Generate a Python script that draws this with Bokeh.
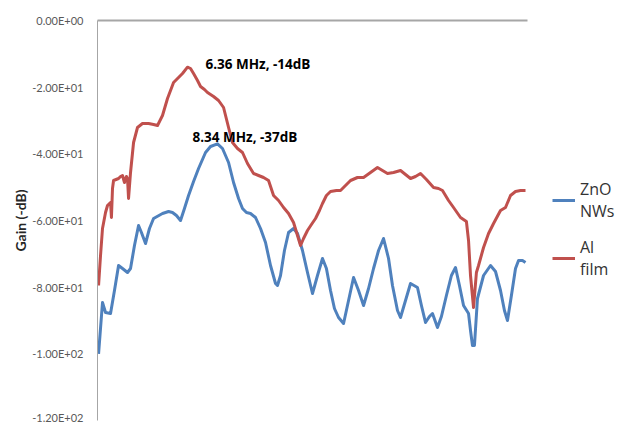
from bokeh.plotting import figure
from bokeh.models import Range1d, FixedTicker, Label, Legend, LegendItem
from bokeh.embed import file_html
from bokeh.resources import INLINE

# Frequency (MHz) and gain (dB) of the two devices
zno_freq = [0.49, 0.75, 0.95, 1.28, 1.54, 1.81, 2.07, 2.40, 2.60, 2.86, 3.13, 3.32, 3.59, 3.85,
            4.12, 4.71, 5.11, 5.37, 5.63, 5.90, 6.16, 6.43, 6.76, 7.09, 7.55, 7.88, 8.34, 8.67,
            9.07, 9.40, 9.73, 9.99, 10.25, 10.52, 10.85, 11.18, 11.51, 11.84, 12.17, 12.30, 12.50,
            12.76, 13.03, 13.36, 13.62, 13.95, 14.28, 14.61, 14.94, 15.27, 15.53, 15.80, 16.06,
            16.33, 16.66, 16.99, 17.32, 17.65, 17.98, 18.31, 18.64, 18.97, 19.30, 19.63, 19.89,
            20.22, 20.42, 20.75, 21.08, 21.54, 21.80, 22.07, 22.33, 22.53, 22.86, 23.12, 23.45,
            23.78, 24.05, 24.31, 24.58, 24.91, 25.04, 25.17, 25.30, 25.50, 25.90, 26.36, 26.69,
            27.02, 27.28, 27.48, 27.74, 28.01, 28.21, 28.47, 28.67]
zno_gain = [-100.0, -84.6, -87.6, -87.9, -81.0, -73.5, -74.4, -75.6, -74.4, -67.5, -61.5, -63.6,
            -66.9, -62.4, -59.4, -57.9, -57.3, -57.6, -58.5, -60.0, -56.4, -52.5, -48.3, -44.4,
            -39.6, -37.8, -37.0, -38.4, -42.6, -48.6, -53.4, -56.4, -57.6, -57.9, -59.1, -62.4,
            -66.6, -73.5, -78.9, -79.5, -76.5, -69.0, -63.6, -62.4, -63.9, -69.0, -75.6, -81.9,
            -76.5, -71.4, -74.4, -81.0, -86.4, -89.1, -90.9, -84.0, -77.1, -81.0, -85.5, -80.4,
            -74.4, -69.0, -65.4, -71.4, -79.5, -87.0, -89.1, -84.0, -78.9, -80.1, -85.5, -90.6,
            -88.8, -87.9, -92.1, -88.8, -82.5, -76.5, -74.1, -79.5, -85.5, -87.9, -93.0, -97.5,
            -97.5, -83.4, -76.5, -73.5, -75.3, -81.0, -87.0, -90.0, -82.5, -74.4, -72.0, -72.0,
            -72.6]

al_freq = [0.49, 0.62, 0.75, 0.95, 1.08, 1.28, 1.34, 1.41, 1.48, 1.81, 1.94, 2.07, 2.20, 2.33,
           2.40, 2.47, 2.60, 2.80, 3.06, 3.39, 3.79, 4.12, 4.38, 4.71, 5.04, 5.44, 5.77, 6.03,
           6.36, 6.56, 6.76, 7.02, 7.22, 7.48, 7.68, 8.08, 8.41, 8.74, 9.07, 9.33, 9.66, 9.99,
           10.32, 10.72, 11.05, 11.38, 11.71, 12.04, 12.37, 12.70, 13.03, 13.36, 13.62, 13.82,
           14.02, 14.28, 14.54, 14.81, 15.07, 15.27, 15.53, 15.80, 16.19, 16.46, 16.79, 17.12,
           17.58, 17.98, 18.44, 18.90, 19.23, 19.56, 19.96, 20.42, 20.75, 21.08, 21.41, 21.74,
           22.13, 22.60, 22.93, 23.19, 23.59, 23.92, 24.38, 24.77, 24.91, 25.04, 25.24, 25.43,
           25.57, 25.90, 26.23, 26.56, 27.02, 27.35, 27.68, 28.01, 28.34, 28.67]
al_gain = [-79.5, -70.5, -62.4, -57.6, -55.5, -54.6, -59.1, -50.4, -48.0, -47.4, -46.8, -46.5,
           -48.6, -46.8, -47.4, -53.4, -45.6, -36.6, -32.1, -30.9, -30.9, -31.2, -31.5, -28.5,
           -23.4, -18.6, -17.1, -15.9, -14.0, -14.4, -15.9, -18.0, -19.8, -20.7, -21.6, -22.8,
           -24.0, -26.1, -32.1, -36.6, -38.4, -39.6, -42.9, -45.9, -46.5, -47.1, -48.0, -52.5,
           -54.0, -56.1, -57.9, -60.6, -64.5, -67.5, -65.4, -63.0, -61.2, -59.4, -57.0, -54.9,
           -52.5, -51.3, -51.0, -51.0, -49.5, -48.0, -47.1, -47.1, -45.6, -44.1, -45.0, -45.9,
           -45.6, -45.0, -46.2, -47.4, -46.8, -45.9, -47.7, -50.1, -50.4, -51.0, -54.0, -56.1,
           -59.1, -60.3, -66.0, -76.5, -86.1, -75.6, -73.5, -68.1, -63.9, -60.9, -57.0, -56.1,
           -52.5, -51.3, -51.0, -51.0]

y_ticks = [0, -20, -40, -60, -80, -100, -120]
y_tick_labels = ["0.00E+00", "-2.00E+01", "-4.00E+01", "-6.00E+01",
                 "-8.00E+01", "-1.00E+02", "-1.20E+02"]

# Marked resonance peaks: (frequency MHz, gain dB)
al_peak = (6.36, -14)
zno_peak = (8.34, -37)

# data span of the frequency axis; the frame continues to the right to hold the legend
f_start, f_end = 0.42, 28.80
f_frame_end = 34.94

BLUE = "#4F81BD"
RED = "#C0504D"
FONT = "Lato"
TEXT_FONT = "Open Sans"

p = figure(width=620, height=423, output_backend="svg", toolbar_location=None,
           x_range=Range1d(f_start, f_frame_end), y_range=Range1d(-120, 0),
           x_axis_location="above",
           min_border_left=97, min_border_right=0, min_border_top=20, min_border_bottom=3)
p.outline_line_color = None
p.grid.visible = False
p.background_fill_color = "white"
p.border_fill_color = "white"

# horizontal axis: a plain line at 0 dB along the top, without ticks or labels
xax = p.xaxis[0]
xax.ticker = FixedTicker(ticks=[])
xax.bounds = (f_start, f_end)
xax.major_tick_out = 0
xax.major_tick_in = 0
xax.minor_tick_out = 0
xax.minor_tick_in = 0
xax.major_label_standoff = 0
xax.axis_line_color = "#a6a6a6"
xax.axis_line_width = 2

yax = p.yaxis[0]
yax.ticker = FixedTicker(ticks=y_ticks)
yax.major_label_overrides = {t: s for t, s in zip(y_ticks, y_tick_labels)}
yax.major_tick_out = 0
yax.major_tick_in = 0
yax.minor_tick_out = 0
yax.minor_tick_in = 0
yax.major_label_standoff = 14
yax.major_label_text_font = FONT
yax.major_label_text_font_size = "11px"
yax.major_label_text_color = "#595959"
yax.axis_line_color = "#a6a6a6"
yax.axis_line_width = 1
yax.axis_label = "Gain (-dB)"
yax.axis_label_text_font = FONT
yax.axis_label_text_font_style = "bold"
yax.axis_label_text_font_size = "14px"
yax.axis_label_text_color = "#262626"
yax.axis_label_standoff = 0

r_zno = p.line(zno_freq, zno_gain, line_color=BLUE, line_width=3, line_join="round")
r_al = p.line(al_freq, al_gain, line_color=RED, line_width=3, line_join="round")

p.add_layout(Label(x=al_peak[0], y=al_peak[1], x_offset=18, y_offset=-6,
                   text=f"{al_peak[0]:.2f} MHz, {al_peak[1]}dB", text_font=TEXT_FONT,
                   text_font_style="bold", text_font_size="13.5px", text_color="black"))
p.add_layout(Label(x=zno_peak[0], y=zno_peak[1], x_offset=-25, y_offset=-2,
                   text=f"{zno_peak[0]:.2f} MHz, {zno_peak[1]}dB", text_font=TEXT_FONT,
                   text_font_style="bold", text_font_size="13.5px", text_color="black"))

legend = Legend(items=[LegendItem(label="ZnO\nNWs", renderers=[r_zno]),
                       LegendItem(label="Al\nfilm", renderers=[r_al])],
                location=(455, 140), padding=0, margin=0, spacing=14,
                glyph_width=23, label_standoff=5,
                border_line_color=None, background_fill_alpha=0,
                label_text_font=TEXT_FONT, label_text_font_size="16px",
                label_text_color="#333333")
p.add_layout(legend, "center")

open("out.html", "w").write(file_html(p, INLINE))
